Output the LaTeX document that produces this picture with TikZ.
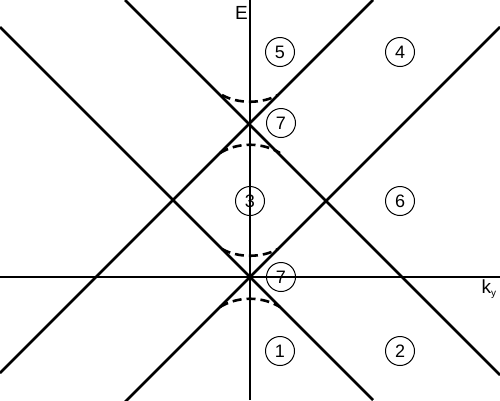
\documentclass[tikz,border=0pt]{standalone}
\usepackage{fontspec}
\setmainfont{Liberation Sans}
\begin{document}
\begin{tikzpicture}[x=1pt,y=-1pt,
  band/.style={line width=2.6pt},
  axis/.style={line width=1.1pt},
  gap/.style={line width=2.6pt,dash pattern=on 9pt off 5pt},
  region/.style={circle,draw,line width=1pt,minimum size=29pt,inner sep=0pt,font=\fontsize{18}{18}\selectfont},
  lab/.style={inner sep=0pt,font=\fontsize{19}{19}\selectfont}]
\useasboundingbox (0,0) rectangle (500,400);
% axes
\coordinate (yb) at (250,400); \coordinate (yt) at (250,0);
\coordinate (xl) at (0,277); \coordinate (xr) at (500,277);
\draw[axis] (yb) -- (yt);
\draw[axis] (xl) -- (xr);
\node[lab,anchor=east] (E) at (248,13) {E};
\node[lab,anchor=center] (ky) at (489,289) {k\textsubscript{\fontsize{10}{10}\selectfont y}};
% bands
\coordinate (a1) at (0,27); \coordinate (a2) at (373,400);
\coordinate (b1) at (125,0); \coordinate (b2) at (500,375);
\coordinate (c1) at (125,402); \coordinate (c2) at (500,27);
\coordinate (d1) at (0,373); \coordinate (d2) at (373,0);
\draw[band] (a1) -- (a2);
\draw[band] (b1) -- (b2);
\draw[band] (c1) -- (c2);
\draw[band] (d1) -- (d2);
% gaps
\coordinate (g1l) at (222,95); \coordinate (g1r) at (278,95);
\coordinate (g2l) at (220,153); \coordinate (g2r) at (280,153);
\coordinate (g3l) at (222,249); \coordinate (g3r) at (278,249);
\coordinate (g4l) at (220,307); \coordinate (g4r) at (280,307);
\draw[gap] (g1l) .. controls (238,104) and (262,104) .. (g1r);
\draw[gap] (g2l) .. controls (238,142) and (262,142) .. (g2r);
\draw[gap] (g3l) .. controls (238,258) and (262,258) .. (g3r);
\draw[gap] (g4l) .. controls (238,296) and (262,296) .. (g4r);
% regions
\node[region] (r5) at (280,52) {5};
\node[region] (r4) at (400,52) {4};
\node[region] (r7a) at (281,123) {7};
\node[region] (r3) at (250,201) {3};
\node[region] (r6) at (400,201) {6};
\node[region] (r7b) at (281,277) {7};
\node[region] (r1) at (280,351) {1};
\node[region] (r2) at (400,351) {2};
\end{tikzpicture}
\end{document}
